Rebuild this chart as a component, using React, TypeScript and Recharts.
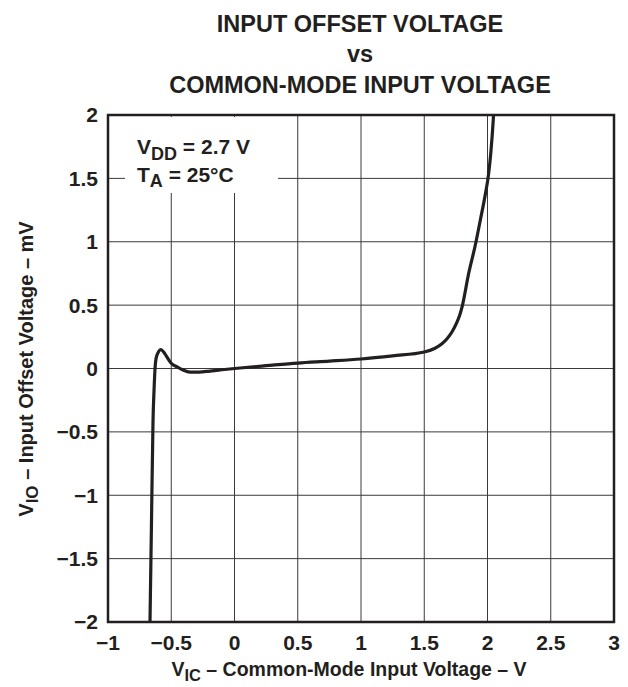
import React from "react";
import {
  LineChart,
  Line,
  XAxis,
  YAxis,
  CartesianGrid,
  ReferenceArea,
} from "recharts";

// Common-mode input voltage (V)
const vic = [
  -0.668, -0.656, -0.644, -0.636, -0.628, -0.62, -0.604, -0.581, -0.56, -0.54,
  -0.502, -0.45, -0.407, -0.352, -0.28, -0.194, -0.1, 0.043, 0.25, 0.5, 0.75,
  1.0, 1.25, 1.5, 1.585, 1.64, 1.68, 1.72, 1.756, 1.78, 1.8, 1.85, 1.905,
  1.945, 1.982, 2.008, 2.026, 2.038, 2.048,
];
// Input offset voltage (mV)
const vio = [
  -2.0, -1.195, -0.406, -0.17, 0.004, 0.08, 0.125, 0.15, 0.13, 0.1, 0.043,
  0.01, -0.012, -0.028, -0.028, -0.02, -0.01, 0.004, 0.022, 0.043, 0.058,
  0.075, 0.1, 0.13, 0.16, 0.195, 0.235, 0.29, 0.36, 0.42, 0.49, 0.745, 0.98,
  1.18, 1.37, 1.53, 1.7, 1.85, 2.0,
];

const xTicks = [-1, -0.5, 0, 0.5, 1, 1.5, 2, 2.5, 3];
const yTicks = [-2, -1.5, -1, -0.5, 0, 0.5, 1, 1.5, 2];

const titleLines = [
  "INPUT OFFSET VOLTAGE",
  "vs",
  "COMMON-MODE INPUT VOLTAGE",
];

const data = vic.map((x, i) => ({ vic: x, vio: vio[i] }));

const FONT = '"Liberation Sans", Arial, Helvetica, sans-serif';
const INK = "#231f20";

const fmt = (v: number) => (v < 0 ? "\u2212" + Math.abs(v) : String(v));

export default function App() {
  return (
    <div
      style={{
        position: "absolute",
        left: 0,
        top: 0,
        width: 628,
        height: 687,
        background: "#fff",
        fontFamily: FONT,
      }}
    >
      <LineChart
        width={628}
        height={687}
        data={data}
        margin={{ top: 115, right: 14, bottom: 35, left: 48 }}
      >
        <CartesianGrid stroke="#3a3a3a" strokeWidth={1} />
        <XAxis
          dataKey="vic"
          type="number"
          domain={[-1, 3]}
          ticks={xTicks}
          tickFormatter={fmt}
          axisLine={false}
          tickLine={false}
          tickSize={0}
          tickMargin={13}
          height={30}
          interval={0}
          allowDataOverflow
          tick={{ fill: INK, fontSize: 21, fontWeight: "bold", fontFamily: FONT }}
        />
        <YAxis
          type="number"
          domain={[-2, 2]}
          ticks={yTicks}
          tickFormatter={fmt}
          axisLine={false}
          tickLine={false}
          tickSize={0}
          tickMargin={10}
          width={60}
          interval={0}
          allowDataOverflow
          tick={{ fill: INK, fontSize: 21, fontWeight: "bold", fontFamily: FONT }}
        />
        <ReferenceArea
          x1={-1}
          x2={3}
          y1={-2}
          y2={2}
          fill="none"
          fillOpacity={0}
          stroke={INK}
          strokeWidth={2.5}
        />
        <Line
          type="monotone"
          dataKey="vio"
          stroke={INK}
          strokeWidth={3.2}
          dot={false}
          activeDot={false}
          isAnimationActive={false}
        />
      </LineChart>
      <svg
        width={628}
        height={687}
        style={{ position: "absolute", left: 0, top: 0, pointerEvents: "none" }}
        fontFamily={FONT}
        fontWeight="bold"
        fill={INK}
      >
        <text x={360} y={32} textAnchor="middle" fontSize={23.5}>
          {titleLines[0]}
        </text>
        <text x={360} y={62} textAnchor="middle" fontSize={23.5}>
          {titleLines[1]}
        </text>
        <text x={360} y={93} textAnchor="middle" fontSize={23.5}>
          {titleLines[2]}
        </text>

        <rect x={125} y={117} width={153} height={76} fill="#fff" />
        <text x={137} y={154} fontSize={21}>
          V
          <tspan fontSize={18} dy={6}>DD</tspan>
          <tspan dy={-6}> = 2.7 V</tspan>
        </text>
        <text x={137} y={182} fontSize={21}>
          T
          <tspan fontSize={18} dy={5}>A</tspan>
          <tspan dy={-5}> = 25°C</tspan>
        </text>

        <text x={349} y={676} textAnchor="middle" fontSize={19.5}>
          V
          <tspan fontSize={16.5} dy={5}>IC</tspan>
          <tspan dy={-5}> – Common-Mode Input Voltage – V</tspan>
        </text>

        <text
          transform="translate(33,369) rotate(-90)"
          textAnchor="middle"
          fontSize={20}
        >
          V
          <tspan fontSize={17} dy={5}>IO</tspan>
          <tspan dy={-5}> – Input Offset Voltage – mV</tspan>
        </text>
      </svg>
    </div>
  );
}
